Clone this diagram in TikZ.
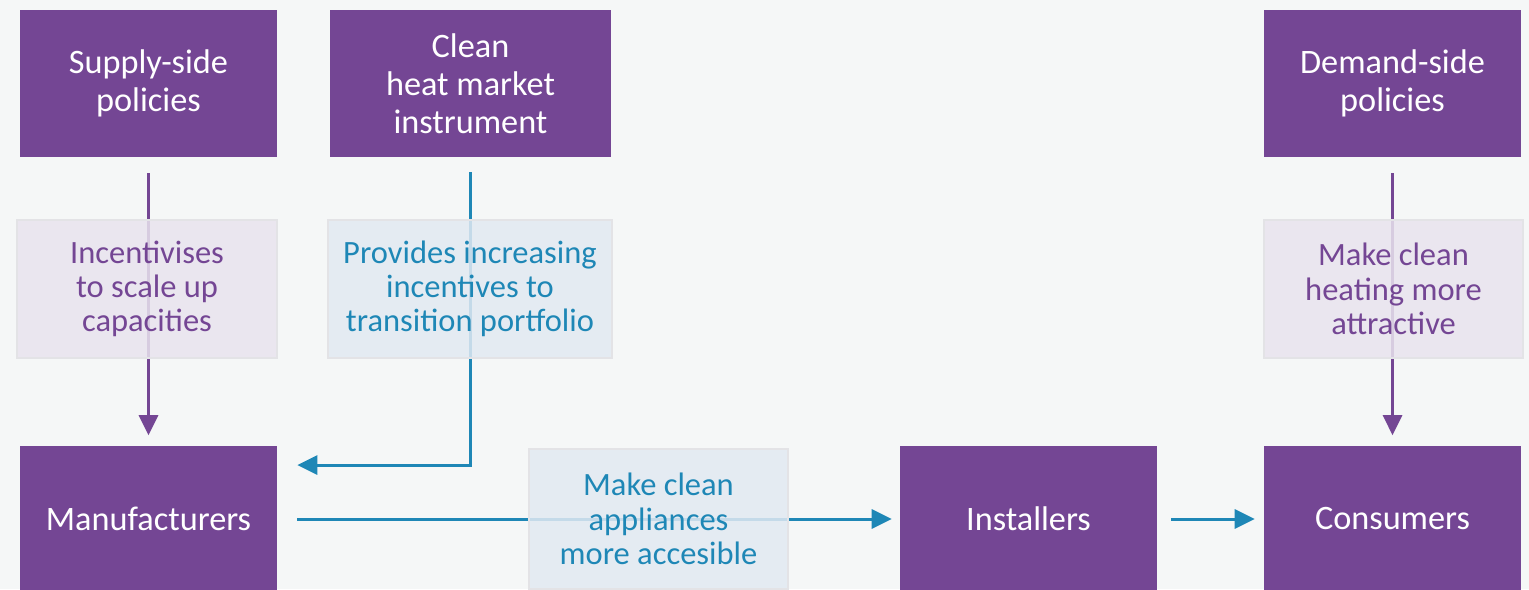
\documentclass[tikz,border=0pt]{standalone}
\usepackage{fontspec}
\setmainfont{Carlito}
\usetikzlibrary{positioning,arrows.meta}

\definecolor{policyviolet}{HTML}{744694}
\definecolor{flowblue}{HTML}{1E87B6}
\definecolor{notelilac}{HTML}{E9E4EE}
\definecolor{noteblue}{HTML}{E2E9F2}
\definecolor{noteedge}{HTML}{E3E3E6}
\definecolor{paper}{HTML}{F5F7F7}

\begin{document}
\begin{tikzpicture}[
    x=0.02cm, y=-0.02cm,
    every node/.style={align=center},
    actor/.style={fill=policyviolet, text=white, inner sep=0pt, minimum width=5.14cm, minimum height=2.94cm, font=\fontsize{19.5}{21.5}\selectfont},
    note/.style={draw=noteedge, line width=0.04cm, fill opacity=0.85, text opacity=1, inner sep=0pt, minimum width=5.2cm, minimum height=2.76cm, font=\fontsize{18.5}{19.5}\selectfont},
    violetnote/.style={note, fill=notelilac, text=policyviolet},
    bluenote/.style={note, fill=noteblue, text=flowblue},
    arrow/.style={-{Triangle[length=0.4cm, width=0.38cm]}, line width=0.06cm},
    violetarrow/.style={arrow, draw=policyviolet},
    bluearrow/.style={arrow, draw=flowblue}
]

% Background
\fill[paper] (0,0) rectangle (1529,589);
\useasboundingbox (0,0) rectangle (1529,589);
\clip (0,0) rectangle (1529,589);

% Nodes
\node[actor] (supply) at (148.5,83.5) {Supply-side\\policies};
\node[actor, minimum width=5.62cm] (market) at (470.5,83.5) {Clean\\heat market\\instrument};
\node[actor] (demand) at (1392.5,83.5) {Demand-side\\policies};

\node[actor] (makers) at (148.5,519) {Manufacturers};
\node[actor] (fitters) at (1028.5,519) {Installers};
\node[actor] (users) at (1392.5,519) {Consumers};

% Arrows
\draw[violetarrow, shorten <=0.32cm, shorten >=0.2cm] (supply) -- (makers);
\draw[violetarrow, shorten <=0.32cm, shorten >=0.2cm] (demand) -- (users);
\draw[bluearrow, shorten <=0.3cm, shorten >=0.4cm] (market.south) |- ([yshift=1.08cm]makers.east);
\draw[bluearrow, shorten <=0.4cm, shorten >=0.16cm] (makers) -- (fitters);
\draw[bluearrow, shorten <=0.28cm, shorten >=0.18cm] (fitters) -- (users);

% Labels
\node[violetnote] (scaleup) at (147,289) {Incentivises\\to scale up\\capacities};
\node[bluenote, minimum width=5.68cm] (portfolio) at (470,289) {Provides increasing\\incentives to\\transition portfolio};
\node[violetnote] (attractive) at (1393.5,289) {Make clean\\heating more\\attractive};
\node[bluenote, minimum height=2.8cm] (access) at (658.5,519) {Make clean\\appliances\\more accesible};

\end{tikzpicture}
\end{document}
